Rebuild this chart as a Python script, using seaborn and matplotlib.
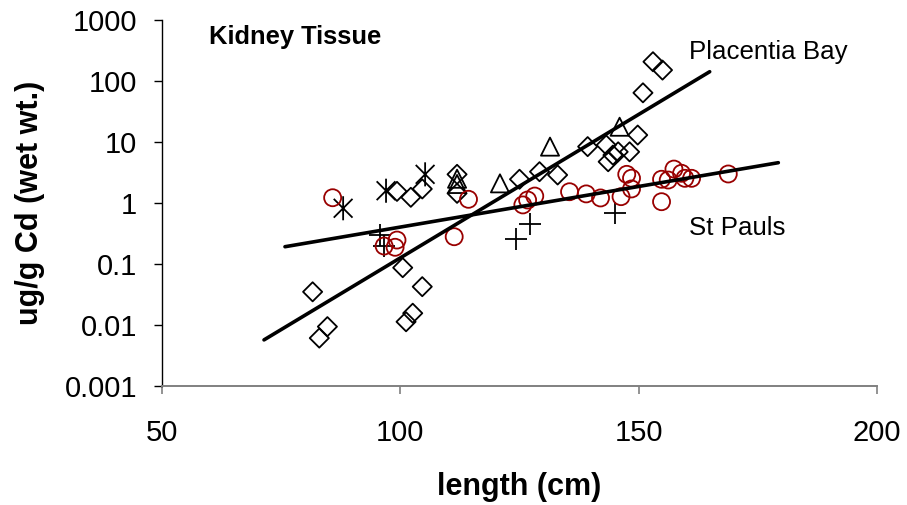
import numpy as np
import pandas as pd
import matplotlib
matplotlib.use("Agg")
import matplotlib.pyplot as plt
from matplotlib.path import Path
import seaborn as sns

# ---------------- data ----------------
diamond_x = [81.6, 83.0, 84.7, 99.3, 100.5, 101.2, 102.2, 102.6, 104.6, 104.6,
             111.9, 111.9, 125.0, 129.2, 133.0, 139.3, 143.2, 143.6, 144.6,
             145.7, 148.1, 149.8, 150.9, 153.0, 155.0]
diamond_y = [0.035, 0.0061, 0.0094, 1.55, 0.087, 0.0113, 1.24, 0.0156, 1.70, 0.0425,
             2.95, 1.44, 2.45, 3.26, 2.88, 8.4, 8.9, 4.75, 6.1,
             6.9, 6.9, 13.0, 64.0, 207.0, 151.0]

triangle_x = [111.9, 111.9, 120.9, 131.4, 146.0]
triangle_y = [2.5, 2.05, 2.1, 8.4, 17.8]

asterisk_x = [88.0, 97.0, 105.2]
asterisk_y = [0.82, 1.59, 2.95]

plus_x = [95.7, 96.6, 124.3, 127.1, 145.0]
plus_y = [0.30, 0.197, 0.26, 0.46, 0.68]

circle_x = [85.8, 96.6, 98.9, 99.3, 111.3, 114.3, 125.7, 126.7, 128.2, 135.5,
            139.0, 142.0, 146.3, 147.5, 148.5, 148.5, 154.8, 154.8, 156.2,
            157.4, 159.0, 159.7, 161.1, 168.8]
circle_y = [1.22, 0.197, 0.188, 0.247, 0.28, 1.15, 0.93, 1.12, 1.30, 1.53,
            1.41, 1.21, 1.27, 2.95, 2.55, 1.70, 1.05, 2.45, 2.38,
            3.6, 3.07, 2.54, 2.54, 2.99]

placentia_trend_x = [71.4, 164.9]
placentia_trend_y = [0.0057, 142.0]
stpauls_trend_x = [75.8, 179.3]
stpauls_trend_y = [0.192, 4.58]

x_ticks = [50, 100, 150, 200]
y_ticks = [0.001, 0.01, 0.1, 1, 10, 100, 1000]
y_tick_labels = ["0.001", "0.01", "0.1", "1", "10", "100", "1000"]

# ---------------- style ----------------
sns.set_style("white", {"text.color": "black", "axes.labelcolor": "black",
                        "xtick.color": "black", "ytick.color": "black"})
plt.rcParams["font.family"] = ["Liberation Sans", "DejaVu Sans"]

fig = plt.figure(figsize=(9.07, 5.05), dpi=100)
ax = fig.add_axes([162 / 907, 1 - 386 / 505, 715 / 907, 366 / 505])

red = "#990000"
mew = 1.3

sns.lineplot(x=placentia_trend_x, y=placentia_trend_y, ax=ax, color="black",
             linewidth=2.6, legend=False)
sns.lineplot(x=stpauls_trend_x, y=stpauls_trend_y, ax=ax, color="black",
             linewidth=2.6, legend=False)

sns.scatterplot(x=diamond_x, y=diamond_y, ax=ax, marker="D", s=95,
                facecolor="none", edgecolor="black", linewidth=mew, legend=False)
sns.scatterplot(x=triangle_x, y=triangle_y, ax=ax, marker="^", s=170,
                facecolor="none", edgecolor="black", linewidth=mew, legend=False)

ast_path = Path(
    [(0, -1), (0, 1), (-0.78, -0.78), (0.78, 0.78), (-0.78, 0.78), (0.78, -0.78)],
    [Path.MOVETO, Path.LINETO, Path.MOVETO, Path.LINETO, Path.MOVETO, Path.LINETO])
sns.scatterplot(x=asterisk_x, y=asterisk_y, ax=ax, marker=ast_path, s=300,
                facecolor="none", edgecolor="black", linewidth=mew, legend=False)
sns.scatterplot(x=plus_x, y=plus_y, ax=ax, marker="+", s=230,
                color="black", linewidth=mew, legend=False)
sns.scatterplot(x=circle_x, y=circle_y, ax=ax, marker="o", s=150,
                facecolor="none", edgecolor=red, linewidth=mew, legend=False)

ax.set_yscale("log")
ax.set_xlim(50, 200)
ax.set_ylim(0.001, 1000)
ax.set_xticks(x_ticks)
ax.set_xticklabels([str(t) for t in x_ticks])
ax.set_yticks(y_ticks)
ax.set_yticklabels(y_tick_labels)
ax.minorticks_off()

for s in ["top", "right"]:
    ax.spines[s].set_visible(False)
ax.spines["left"].set_color("black")
ax.spines["left"].set_linewidth(1.0)
ax.spines["bottom"].set_color("#808080")
ax.spines["bottom"].set_linewidth(1.4)

ax.tick_params(axis="y", direction="out", length=6, width=1.0, color="black",
               labelcolor="black", labelsize=21, pad=12, left=True)
ax.tick_params(axis="x", direction="out", length=6, width=1.2, color="#808080",
               labelcolor="black", labelsize=21, pad=18, bottom=True)

ax.set_xlabel("length (cm)", fontsize=22, fontweight="bold", color="black")
ax.set_ylabel("ug/g Cd (wet wt.)", fontsize=22, fontweight="bold", color="black")
ax.xaxis.set_label_coords(0.5, -0.235)
ax.yaxis.set_label_coords(-0.164, 0.5)

ax.text(0.066, 0.953, "Kidney Tissue", transform=ax.transAxes, fontsize=18.4,
        fontweight="bold", ha="left", va="center", color="black")
ax.text(160.6, 300, "Placentia Bay", fontsize=18.6, ha="left", va="center",
        color="black")
ax.text(160.6, 0.39, "St Pauls", fontsize=18.6, ha="left", va="center",
        color="black")

fig.savefig("out.png", dpi=100)
